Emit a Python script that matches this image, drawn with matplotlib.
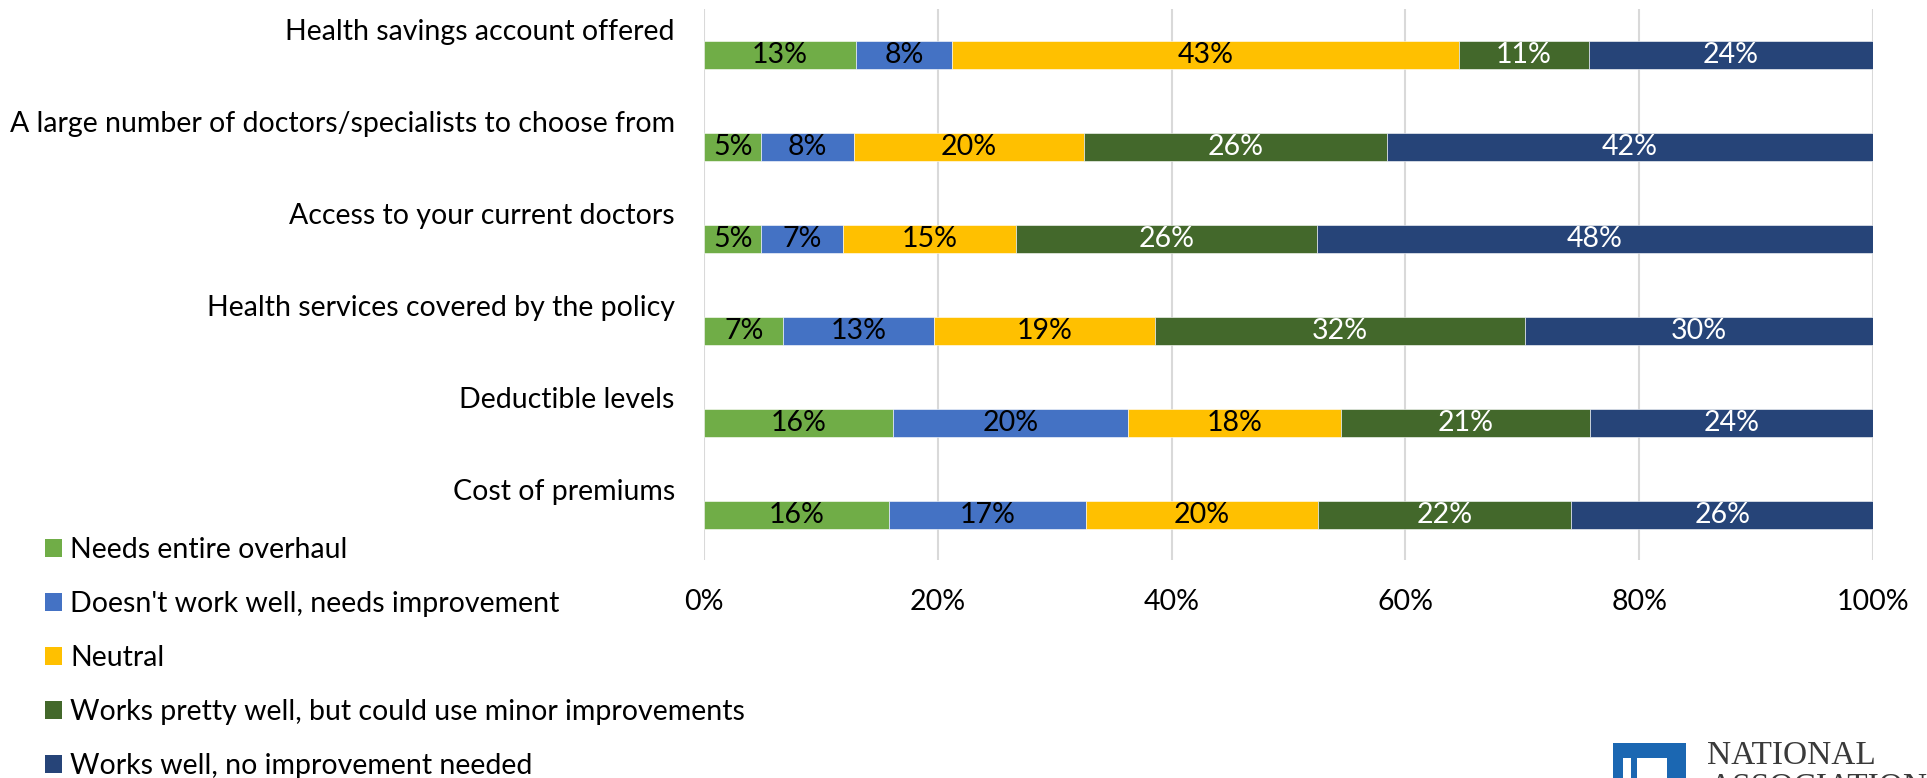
import matplotlib.pyplot as plt
import numpy as np
from matplotlib.patches import Patch, Rectangle
from matplotlib.ticker import PercentFormatter

plt.rcParams['font.family'] = ['Lato', 'DejaVu Sans']

# Survey rows, top to bottom
categories = ['Health savings account offered',
              'A large number of doctors/specialists to choose from',
              'Access to your current doctors',
              'Health services covered by the policy',
              'Deductible levels',
              'Cost of premiums']

# Share of respondents (%) per answer
needs_overhaul = [13.0, 4.9, 4.9, 6.8, 16.2, 15.8]
needs_improvement = [8.2, 7.9, 7.0, 12.9, 20.1, 16.9]
neutral = [43.4, 19.7, 14.8, 18.9, 18.2, 19.8]
minor_improvements = [11.1, 25.9, 25.7, 31.6, 21.3, 21.7]
works_well = [24.3, 41.6, 47.6, 29.8, 24.2, 25.8]

series_names = ['Needs entire overhaul',
                "Doesn't work well, needs improvement",
                'Neutral',
                'Works pretty well, but could use minor improvements',
                'Works well, no improvement needed']
series_values = [needs_overhaul, needs_improvement, neutral, minor_improvements, works_well]
series_colors = ['#70AD47', '#4472C4', '#FFC000', '#43682B', '#264478']
label_colors = ['black', 'black', 'black', 'white', 'white']

font_size = 20.5

fig = plt.figure(figsize=(19.27, 7.78), dpi=100)
ax = fig.add_axes([704/1927, 1 - 560/778, 1169/1927, 551/778])

positions = np.arange(len(categories))
left = np.zeros(len(categories))
for name, values, color, text_color in zip(series_names, series_values, series_colors, label_colors):
    bars = ax.barh(positions, values, left=left, height=0.31, color=color,
                   edgecolor='white', linewidth=0.4, label=name, zorder=3)
    ax.bar_label(bars, labels=['{:.0f}%'.format(v) for v in values], label_type='center',
                 color=text_color, fontsize=font_size)
    left = left + np.array(values)

ax.set_xlim(0, 100)
ax.set_ylim(5.49, -0.50)
ax.set_xticks(np.arange(0, 101, 20))
ax.xaxis.set_major_formatter(PercentFormatter(xmax=100, decimals=0))
ax.tick_params(axis='x', length=0, pad=21, labelsize=font_size)

# Category names sit a bit above their bars
ax.set_yticks(positions - 0.28)
ax.set_yticklabels(categories)
ax.tick_params(axis='y', length=0, pad=21, labelsize=font_size)

ax.grid(axis='x', color='#D9D9D9', linewidth=1.5, zorder=0)
for spine in ax.spines.values():
    spine.set_visible(False)

handles = [Patch(facecolor=c) for c in series_colors]
fig.legend(handles, series_names, loc='upper left', bbox_to_anchor=(45/1927, 1 - 537/778),
           frameon=False, fontsize=font_size, handlelength=0.6, handleheight=0.6,
           handletextpad=0.28, labelspacing=0.98, borderpad=0, borderaxespad=0)

# Logo in the bottom right corner, cut off by the edge
fig.add_artist(Rectangle((1613/1927, 0), 73/1927, 35/778, transform=fig.transFigure,
                         facecolor='#1B67B2', edgecolor='none'))
fig.add_artist(Rectangle((1623/1927, 0), 8/1927, 20/778, transform=fig.transFigure,
                         facecolor='white', edgecolor='none'))
fig.add_artist(Rectangle((1637/1927, 0), 30/1927, 20/778, transform=fig.transFigure,
                         facecolor='white', edgecolor='none'))
fig.text(1707/1927, 1 - 764/778, 'NATIONAL', family='Liberation Serif', fontsize=24,
         color='#3A3A3A', va='baseline')
fig.text(1709/1927, 1 - 796/778, 'ASSOCIATION', family='Liberation Serif', fontsize=24,
         color='#3A3A3A', va='baseline')

fig.savefig('out.png', dpi=100)
